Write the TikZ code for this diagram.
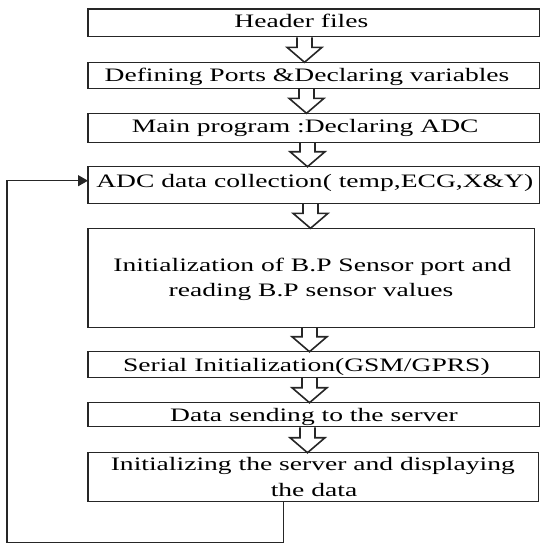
\documentclass[tikz,border=0pt]{standalone}
\usepackage{fontspec}
\setmainfont[FakeStretch=1.45]{Liberation Serif}
\usetikzlibrary{arrows.meta,calc}
\tikzset{
  box/.style={draw=black!85, line width=1.3pt, inner sep=0pt, outer sep=0pt, rectangle},
  txt/.style={anchor=base, inner sep=0pt, font=\fontsize{19}{23}\selectfont, text=black},
  hollow/.style={draw=black!85, line width=1.6pt, fill=white, line join=miter},
  fbline/.style={draw=black!85, line width=1.3pt},
}
\newcommand{\blockarr}[3]{%
  \draw[hollow] let \p1=(#1.south), \p2=(#2.north) in
    ({#3pt-7.5pt},{\y1-0.7pt}) -- ({#3pt-7.5pt},{\y2+15pt}) -- ({#3pt-17.5pt},{\y2+15pt})
    -- (#3pt,\y2) -- ({#3pt+17.5pt},{\y2+15pt}) -- ({#3pt+7.5pt},{\y2+15pt})
    -- ({#3pt+7.5pt},{\y1-0.7pt});}
\begin{document}
\begin{tikzpicture}[x=1pt,y=-1pt]
\useasboundingbox (0,0) rectangle (539,546);
% boxes
\node[box, minimum width=452pt, minimum height=27.7pt] (hdr) at (314,22.85) {};
\node[box, minimum width=452pt, minimum height=26pt] (def) at (314,75.3) {};
\node[box, minimum width=452pt, minimum height=29pt] (mainp) at (314,127.8) {};
\node[box, minimum width=452pt, minimum height=36.6pt] (adc) at (314,185) {};
\node[box, minimum width=446.3pt, minimum height=99pt] (bp) at (311.15,277.8) {};
\node[box, minimum width=452pt, minimum height=25.6pt] (ser) at (314,364.5) {};
\node[box, minimum width=452pt, minimum height=24pt] (dsend) at (314,414.7) {};
\node[box, minimum width=450.5pt, minimum height=49pt] (init) at (313.25,477.2) {};
% block arrows
\blockarr{hdr}{def}{304.5}
\blockarr{def}{mainp}{306.5}
\blockarr{mainp}{adc}{307.5}
\blockarr{adc}{bp}{310.5}
\blockarr{bp}{ser}{309.5}
\blockarr{ser}{dsend}{309.5}
\blockarr{dsend}{init}{307.5}
% feedback loop
\coordinate (fbA) at (283.3,542.7);
\coordinate (fbB) at (7,542.7);
\draw[fbline, -{Triangle[length=10pt,width=11pt]}] (init.south -| fbA) -- (fbA) -- (fbB) |- ([yshift=4.3pt]adc.west);
% texts
\node[txt] (t1) at (301.4,27.7) {Header files};
\node[txt] (t2) at (307,81.7) {Defining Ports \&Declaring variables};
\node[txt] (t3) at (305.2,132.3) {Main program :Declaring ADC};
\node[txt] (t4) at (314.7,187) {ADC data collection( temp,ECG,X\&Y)};
\node[txt] (t5a) at (312.4,271.7) {Initialization of B.P Sensor port and};
\node[txt] (t5b) at (311,296.7) {reading B.P sensor values};
\node[txt] (t6) at (306.4,371.8) {Serial Initialization(GSM/GPRS)};
\node[txt] (t7) at (314,421.8) {Data sending to the server};
\node[txt] (t8a) at (312.8,470.8) {Initializing the server and displaying};
\node[txt] (t8b) at (314,496.7) {the data};
\end{tikzpicture}
\end{document}
